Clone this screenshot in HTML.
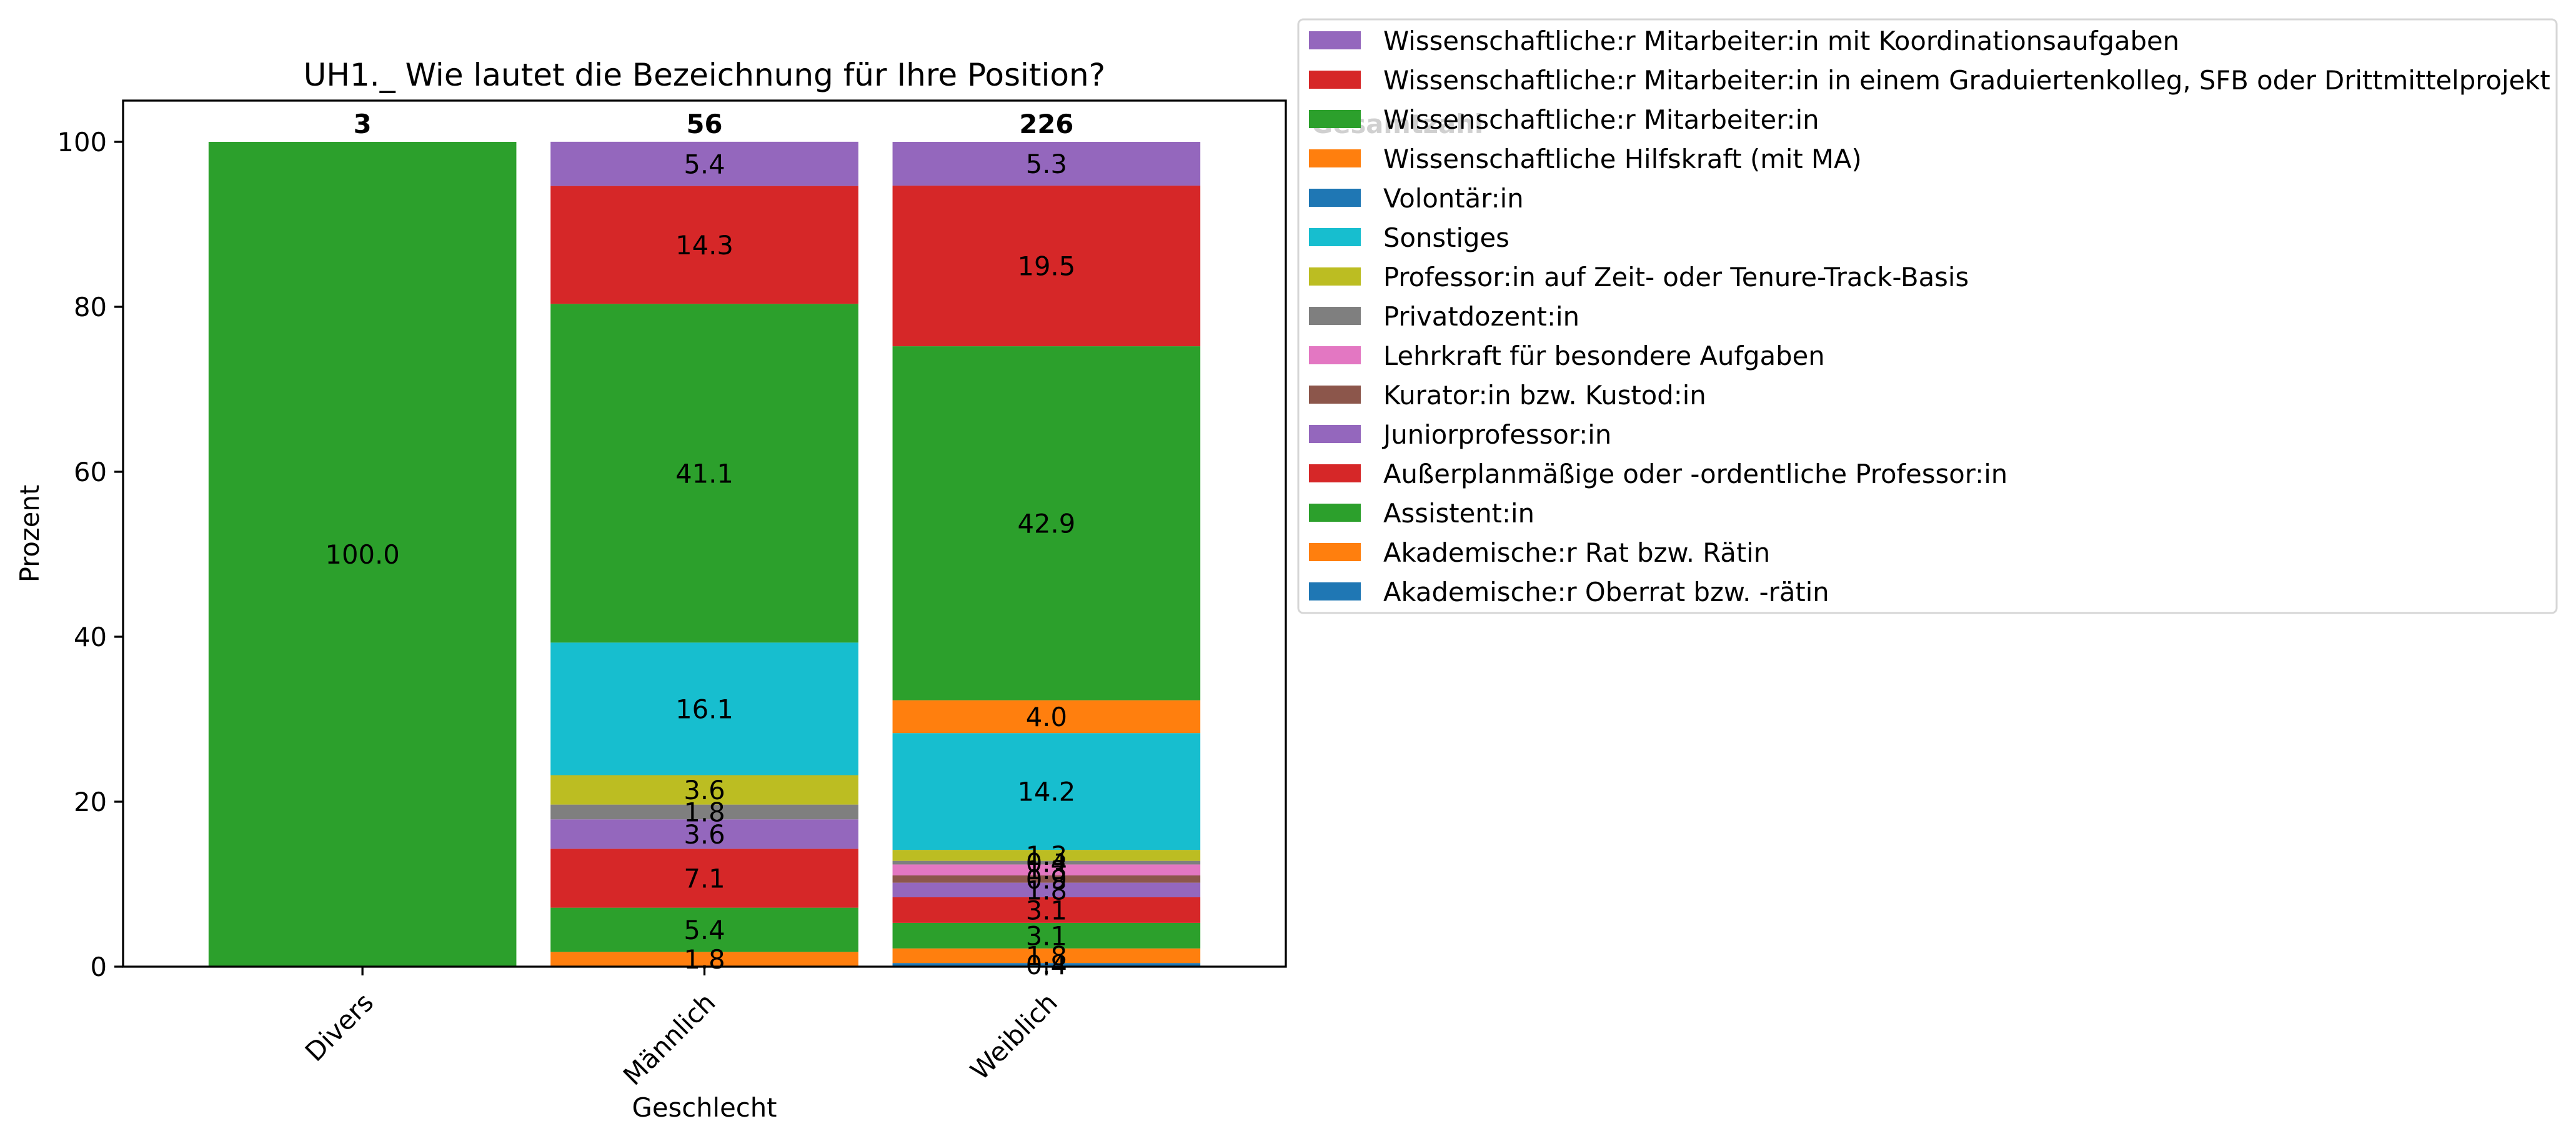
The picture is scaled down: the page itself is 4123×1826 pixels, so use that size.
<!DOCTYPE html>
<html><head><meta charset="utf-8"><style>
html,body{margin:0;padding:0;background:#fff}
svg{display:block;font-family:"DejaVu Sans","Liberation Sans",sans-serif}
</style></head><body>
<svg id="chart" width="4123" height="1826" viewBox="0 0 4123 1826" xmlns="http://www.w3.org/2000/svg">
<rect x="0" y="0" width="4123" height="1826" fill="#fff"/>
<g id="plot"></g>
<g id="legend"></g>
</svg>
<script>
const categories = ["Divers", "Männlich", "Weiblich"];
const totals = [3, 56, 226];
const seriesNames = ["Akademische:r Oberrat bzw. -rätin","Akademische:r Rat bzw. Rätin","Assistent:in","Außerplanmäßige oder -ordentliche Professor:in","Juniorprofessor:in","Kurator:in bzw. Kustod:in","Lehrkraft für besondere Aufgaben","Privatdozent:in","Professor:in auf Zeit- oder Tenure-Track-Basis","Sonstiges","Volontär:in","Wissenschaftliche Hilfskraft (mit MA)","Wissenschaftliche:r Mitarbeiter:in","Wissenschaftliche:r Mitarbeiter:in in einem Graduiertenkolleg, SFB oder Drittmittelprojekt","Wissenschaftliche:r Mitarbeiter:in mit Koordinationsaufgaben"];
const seriesColors = ["#1f77b4","#ff7f0e","#2ca02c","#d62728","#9467bd","#8c564b","#e377c2","#7f7f7f","#bcbd22","#17becf","#1f77b4","#ff7f0e","#2ca02c","#d62728","#9467bd"];
// values per series: [Divers, Männlich, Weiblich]
const valOberrat = [0, 0, 0.44];
const valRat = [0, 1.79, 1.77];
const valAssistent = [0, 5.36, 3.10];
const valAusserplan = [0, 7.14, 3.10];
const valJunior = [0, 3.57, 1.77];
const valKurator = [0, 0, 0.88];
const valLehrkraft = [0, 0, 1.33];
const valPrivatdozent = [0, 1.79, 0.44];
const valProfZeit = [0, 3.57, 1.33];
const valSonstiges = [0, 16.07, 14.16];
const valVolontaer = [0, 0, 0];
const valWHK = [0, 0, 3.98];
const valWM = [100.0, 41.07, 42.92];
const valWMGrad = [0, 14.29, 19.47];
const valWMKoord = [0, 5.36, 5.31];
const yTicks = [0, 20, 40, 60, 80, 100];

const seriesValues = [valOberrat,valRat,valAssistent,valAusserplan,valJunior,valKurator,valLehrkraft,valPrivatdozent,valProfZeit,valSonstiges,valVolontaer,valWHK,valWM,valWMGrad,valWMKoord];
const NS = "http://www.w3.org/2000/svg";
const L = 197, R = 2058, T = 161, B = 1547;
const Y0 = 1547, Y100 = 227;
function yS(v){ return Y0 - (Y0 - Y100) * v / 100; }
function xS(i){ return L + (R - L) * (i + 0.7) / 3.4; }
const bw = (R - L) / 3.4 * 0.9;
function mk(tag, attrs, parent){ const e = document.createElementNS(NS, tag); for (const k in attrs) e.setAttribute(k, attrs[k]); parent.appendChild(e); return e; }
const plot = document.getElementById('plot');
const FS = 41.7;

const cum = categories.map(() => 0);
seriesValues.forEach((vals, s) => {
  vals.forEach((v, i) => {
    if (v <= 0) return;
    const y1 = yS(cum[i] + v), y0 = yS(cum[i]);
    const r = mk('rect', {x: xS(i) - bw/2, y: y1, width: bw, height: y0 - y1, fill: seriesColors[s]}, plot);
    
    
    cum[i] += v;
  });
});
const cum2 = categories.map(() => 0);
seriesValues.forEach((vals, s) => {
  vals.forEach((v, i) => {
    if (v <= 0) return;
    const yc = yS(cum2[i] + v / 2);
    const t = mk('text', {x: xS(i), y: yc + FS*0.36, 'text-anchor': 'middle', 'font-size': FS, fill: '#000'}, plot);
    t.textContent = v.toFixed(1);
    
    
    cum2[i] += v;
  });
});
totals.forEach((n, i) => {
  const t = mk('text', {x: xS(i), y: yS(100) - 14, 'text-anchor': 'middle', 'font-size': FS, 'font-weight': 'bold', fill: '#000'}, plot);
  t.textContent = String(n);
  
  
});
const frame = mk('rect', {x: L, y: T, width: R - L, height: B - T, fill: 'none', stroke: '#000', 'stroke-width': 3.3}, plot);


yTicks.forEach(v => {
  const y = yS(v);
  const ln = mk('line', {x1: L - 14, x2: L, y1: y, y2: y, stroke: '#000', 'stroke-width': 3.3}, plot);
  
  
  const t = mk('text', {x: L - 26, y: y + 15, 'text-anchor': 'end', 'font-size': FS, fill: '#000'}, plot);
  t.textContent = String(v);
  
  
});
categories.forEach((c, i) => {
  const x = xS(i);
  const ln = mk('line', {x1: x, x2: x, y1: B, y2: B + 14, stroke: '#000', 'stroke-width': 3.3}, plot);
  
  
  const ax = x + 20, ay = B + 60;
  const t = mk('text', {x: ax, y: ay, 'text-anchor': 'end', 'font-size': FS, fill: '#000', transform: 'rotate(-45 ' + ax + ' ' + ay + ')'}, plot);
  t.textContent = c;
  
  
});
const title = mk('text', {x: (L + R)/2, y: 137, 'text-anchor': 'middle', 'font-size': 50, fill: '#000'}, plot);
title.textContent = 'UH1._ Wie lautet die Bezeichnung für Ihre Position?';


const xl = mk('text', {x: (L + R)/2, y: 1787, 'text-anchor': 'middle', 'font-size': FS, fill: '#000'}, plot);
xl.textContent = 'Geschlecht';


const yl = mk('text', {x: 62, y: (T + B)/2, 'text-anchor': 'middle', 'font-size': FS, fill: '#000', transform: 'rotate(-90 62 ' + (T + B)/2 + ')'}, plot);
yl.textContent = 'Prozent';



const leg = document.getElementById('legend');
const lb = mk('rect', {x: 2078, y: 31, width: 4092 - 2078, height: 981 - 31, rx: 8, fill: '#fff', stroke: '#d6d6d6', 'stroke-width': 3}, leg);


const gz = mk('text', {x: 2099, y: 213, 'font-size': FS, 'font-weight': 'bold', fill: '#d0d0d0'}, leg);
gz.textContent = 'Gesamtzahl';


for (let k = 0; k < seriesNames.length; k++) {
  const s = seriesNames.length - 1 - k;
  const y = 50 + k * 63;
  const p = mk('rect', {x: 2095, y: y, width: 83, height: 29, fill: seriesColors[s]}, leg);
  
  
  const t = mk('text', {x: 2214, y: y + 30, 'font-size': FS, fill: '#000'}, leg);
  t.textContent = seriesNames[s];
  
  
}
</script>
</body></html>
